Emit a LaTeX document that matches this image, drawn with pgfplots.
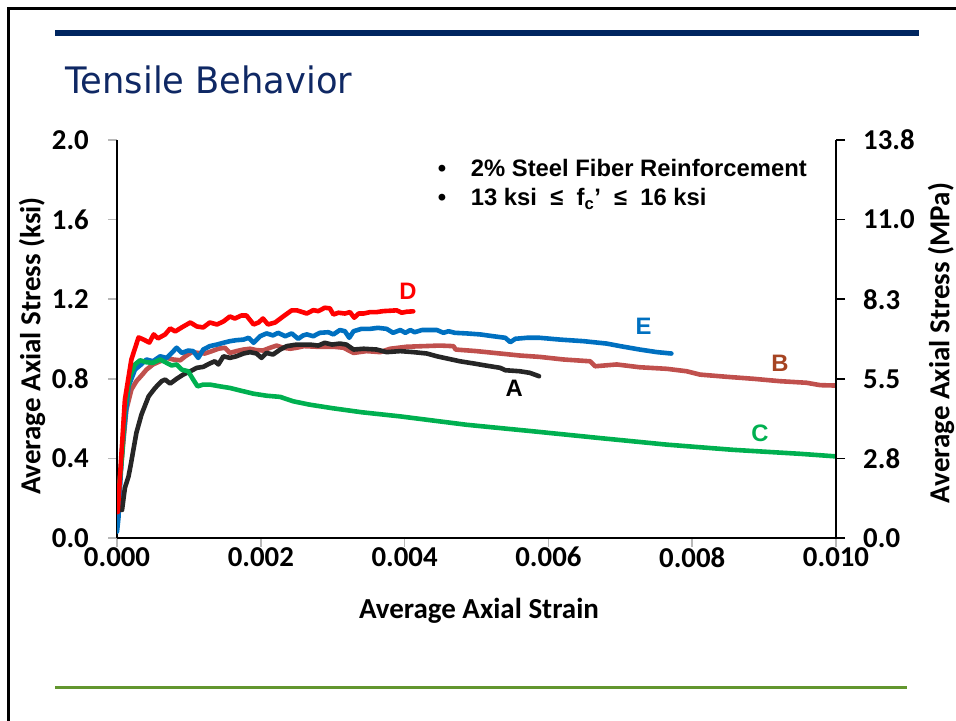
\documentclass[border=0pt]{standalone}
\usepackage{fontspec}
\usepackage{pgfplots}
\pgfplotsset{compat=1.18}
\setmainfont{Liberation Sans}
\newfontfamily\carlito{Carlito}
\newfontfamily\titlefont{DejaVu Sans}
\definecolor{navy}{RGB}{0,38,96}
\definecolor{titleblue}{RGB}{15,40,100}
\definecolor{rulegreen}{RGB}{98,150,46}
\definecolor{cA}{RGB}{38,38,38}
\definecolor{cB}{RGB}{192,80,77}
\definecolor{cBlab}{RGB}{166,68,34}
\definecolor{cC}{RGB}{0,176,80}
\definecolor{cD}{RGB}{255,0,0}
\definecolor{cE}{RGB}{0,112,192}
\newcommand\tickfont{\carlito\bfseries\fontsize{28.8bp}{30bp}\selectfont}
\newcommand\labfont{\carlito\bfseries\fontsize{29bp}{31bp}\selectfont}
\newcommand\notefont{\bfseries\fontsize{23.8bp}{26bp}\selectfont}
\begin{document}
\begin{tikzpicture}[x=1bp,y=1bp]
\useasboundingbox (0,0) rectangle (956,721);
% slide frame and rules
\draw[line width=2.6bp,black] (7,712.4) -- (956,712.4);
\draw[line width=2.6bp,black] (8.6,0) -- (8.6,713.6);
\fill[navy] (55,685) rectangle (919,691);
\fill[rulegreen] (55,32) rectangle (907,35);
\node[anchor=base west,inner sep=0pt,text=titleblue] at (65,627.7)
  {\resizebox{287bp}{27.7bp}{\titlefont Tensile Behavior}};

\begin{axis}[
  at={(117bp,183bp)}, anchor=south west,
  scale only axis, width=719bp, height=398bp,
  xmin=0, xmax=0.010, ymin=0, ymax=2.0,
  axis x line*=bottom, axis y line*=left,
  axis line style={black,line width=1.6bp},
  tick align=outside, major tick length=9bp,
  major tick style={color=black!28,line width=1.6bp},
  xtick={0,0.002,0.004,0.006,0.008,0.010},
  xticklabels={0.000,0.002,0.004,0.006,0.008,0.010},
  ytick={0,0.4,0.8,1.2,1.6,2.0},
  yticklabels={0.0,0.4,0.8,1.2,1.6,2.0},
  scaled x ticks=false, scaled y ticks=false,
  xticklabel style={font=\tickfont,inner sep=0pt,anchor=north},
  yticklabel style={font=\tickfont,inner sep=0pt,anchor=east,xshift=-19bp},
  clip=true,
  every axis plot/.append style={line width=4.6bp,line join=round,line cap=round},
]
% B
\addplot[cB] coordinates {(0.00000,0.124) (0.00007,0.410) (0.00013,0.645) (0.00020,0.746) (0.00027,0.788) (0.00034,0.816) (0.00041,0.846) (0.00050,0.872) (0.00060,0.888) (0.00069,0.905) (0.00078,0.897) (0.00088,0.893) (0.00095,0.913) (0.00104,0.934) (0.00113,0.930) (0.00122,0.927) (0.00132,0.939) (0.00141,0.951) (0.00150,0.956) (0.00157,0.930) (0.00166,0.939) (0.00176,0.947) (0.00185,0.951) (0.00194,0.944) (0.00203,0.942) (0.00213,0.956) (0.00222,0.967) (0.00231,0.956) (0.00241,0.951) (0.00250,0.956) (0.00260,0.964) (0.00278,0.961) (0.00301,0.961) (0.00315,0.956) (0.00329,0.930) (0.00347,0.939) (0.00366,0.934) (0.00380,0.951) (0.00403,0.961) (0.00426,0.964) (0.00449,0.967) (0.00468,0.964) (0.00471,0.947) (0.00500,0.939) (0.00533,0.927) (0.00560,0.917) (0.00588,0.910) (0.00621,0.897) (0.00658,0.888) (0.00665,0.863) (0.00695,0.872) (0.00727,0.858) (0.00765,0.850) (0.00792,0.838) (0.00811,0.821) (0.00848,0.810) (0.00885,0.800) (0.00922,0.788) (0.00959,0.780) (0.00978,0.768) (0.01000,0.766)};
% E
\addplot[cE] coordinates {(0.00000,0.032) (0.00002,0.100) (0.00007,0.443) (0.00016,0.762) (0.00025,0.846) (0.00032,0.867) (0.00041,0.897) (0.00050,0.888) (0.00060,0.913) (0.00069,0.905) (0.00076,0.930) (0.00083,0.956) (0.00090,0.930) (0.00099,0.942) (0.00106,0.939) (0.00113,0.905) (0.00120,0.947) (0.00129,0.964) (0.00139,0.972) (0.00148,0.981) (0.00157,0.989) (0.00166,0.994) (0.00176,0.997) (0.00183,1.006) (0.00190,0.981) (0.00199,1.014) (0.00208,1.028) (0.00217,1.018) (0.00224,1.031) (0.00234,1.014) (0.00243,1.028) (0.00252,1.001) (0.00259,1.018) (0.00264,1.023) (0.00273,1.014) (0.00282,1.031) (0.00294,1.034) (0.00301,1.023) (0.00310,1.045) (0.00317,1.039) (0.00323,1.006) (0.00329,1.039) (0.00340,1.051) (0.00352,1.051) (0.00363,1.056) (0.00375,1.051) (0.00384,1.031) (0.00394,1.045) (0.00401,1.031) (0.00408,1.045) (0.00414,1.034) (0.00424,1.045) (0.00435,1.045) (0.00445,1.045) (0.00454,1.031) (0.00461,1.039) (0.00470,1.031) (0.00486,1.028) (0.00505,1.023) (0.00523,1.014) (0.00540,1.006) (0.00547,0.984) (0.00554,1.001) (0.00570,1.006) (0.00588,1.006) (0.00616,0.997) (0.00649,0.989) (0.00681,0.977) (0.00700,0.964) (0.00727,0.947) (0.00751,0.934) (0.00771,0.927)};
% A
\addplot[cA] coordinates {(0.00003,0.141) (0.00007,0.141) (0.00011,0.252) (0.00016,0.309) (0.00019,0.365) (0.00022,0.427) (0.00027,0.529) (0.00034,0.620) (0.00044,0.712) (0.00053,0.754) (0.00062,0.788) (0.00067,0.796) (0.00074,0.776) (0.00083,0.800) (0.00092,0.821) (0.00102,0.838) (0.00111,0.855) (0.00120,0.860) (0.00129,0.877) (0.00136,0.888) (0.00141,0.872) (0.00148,0.913) (0.00157,0.905) (0.00166,0.913) (0.00176,0.927) (0.00185,0.934) (0.00194,0.927) (0.00201,0.905) (0.00208,0.930) (0.00217,0.922) (0.00227,0.947) (0.00236,0.964) (0.00250,0.972) (0.00268,0.972) (0.00280,0.967) (0.00289,0.981) (0.00299,0.972) (0.00310,0.977) (0.00319,0.972) (0.00329,0.947) (0.00343,0.951) (0.00361,0.947) (0.00375,0.934) (0.00394,0.939) (0.00412,0.934) (0.00431,0.927) (0.00445,0.913) (0.00459,0.902) (0.00477,0.888) (0.00496,0.877) (0.00514,0.866) (0.00533,0.855) (0.00540,0.843) (0.00560,0.838) (0.00574,0.830) (0.00587,0.813)};
% C
\addplot[cC] coordinates {(0.00000,0.141) (0.00007,0.410) (0.00011,0.661) (0.00018,0.813) (0.00025,0.872) (0.00032,0.893) (0.00041,0.883) (0.00050,0.880) (0.00060,0.897) (0.00069,0.880) (0.00076,0.867) (0.00083,0.872) (0.00090,0.846) (0.00099,0.838) (0.00106,0.796) (0.00112,0.762) (0.00120,0.771) (0.00129,0.771) (0.00143,0.762) (0.00157,0.754) (0.00176,0.737) (0.00190,0.725) (0.00208,0.715) (0.00227,0.709) (0.00245,0.687) (0.00268,0.670) (0.00300,0.652) (0.00340,0.632) (0.00394,0.611) (0.00486,0.569) (0.00579,0.536) (0.00672,0.502) (0.00765,0.469) (0.00857,0.443) (0.00950,0.423) (0.01000,0.410)};
% D
\addplot[cD] coordinates {(0.00001,0.130) (0.00011,0.695) (0.00020,0.897) (0.00030,1.008) (0.00037,0.997) (0.00045,0.982) (0.00051,1.023) (0.00057,1.003) (0.00067,1.023) (0.00074,1.053) (0.00081,1.038) (0.00090,1.058) (0.00102,1.083) (0.00111,1.063) (0.00120,1.058) (0.00129,1.083) (0.00139,1.073) (0.00148,1.088) (0.00157,1.113) (0.00164,1.103) (0.00173,1.118) (0.00180,1.118) (0.00190,1.073) (0.00197,1.083) (0.00203,1.103) (0.00210,1.073) (0.00220,1.083) (0.00231,1.113) (0.00243,1.144) (0.00250,1.144) (0.00259,1.134) (0.00264,1.128) (0.00273,1.145) (0.00280,1.140) (0.00289,1.157) (0.00296,1.154) (0.00301,1.123) (0.00308,1.132) (0.00317,1.128) (0.00324,1.135) (0.00330,1.107) (0.00336,1.128) (0.00343,1.128) (0.00352,1.135) (0.00361,1.135) (0.00370,1.140) (0.00380,1.142) (0.00389,1.144) (0.00396,1.132) (0.00403,1.137) (0.00412,1.139)};
% curve labels
\node[text=cD,font=\notefont] at (axis cs:0.004047,1.239) {D};
\node[text=cE,font=\notefont] at (axis cs:0.007325,1.063) {E};
\node[text=cBlab,font=\notefont] at (axis cs:0.009221,0.880) {B};
\node[text=black,font=\notefont] at (axis cs:0.005526,0.751) {A};
\node[text=cC,font=\notefont] at (axis cs:0.008943,0.527) {C};
\end{axis}

% secondary stress scale in MPa
\begin{axis}[
  at={(117bp,183bp)}, anchor=south west,
  scale only axis, width=719bp, height=398bp,
  xmin=0, xmax=0.010, ymin=0, ymax=2.0,
  axis x line=none, axis y line*=right,
  axis line style={black,line width=1.6bp},
  tick align=outside, major tick length=9bp,
  major tick style={color=black,line width=1.6bp},
  ytick={0,0.4,0.8,1.2,1.6,2.0},
  yticklabels={0.0,2.8,5.5,8.3,11.0,13.8},
  yticklabel style={font=\tickfont,inner sep=0pt,anchor=west,xshift=18bp},
]
\end{axis}

% axis titles
\node[font=\labfont,rotate=90,inner sep=0pt] at (32,375) {Average Axial Stress (ksi)};
\node[font=\labfont,rotate=90,inner sep=0pt] at (941,378) {Average Axial Stress (MPa)};
\node[font=\labfont,inner sep=0pt] at (479,110) {Average Axial Strain};

% notes
\node[anchor=base,inner sep=0pt,font=\notefont] at (442,544.3) {•};
\node[anchor=base,inner sep=0pt,font=\notefont] at (442,515) {•};
\node[anchor=base west,inner sep=0pt,font=\notefont] at (470.7,544.3) {2\% Steel Fiber Reinforcement};
\node[anchor=base west,inner sep=0pt,font=\notefont] at (470.7,515) {13 ksi~ ≤~ f\textsubscript{c}’~ ≤~ 16 ksi};
\end{tikzpicture}
\end{document}
